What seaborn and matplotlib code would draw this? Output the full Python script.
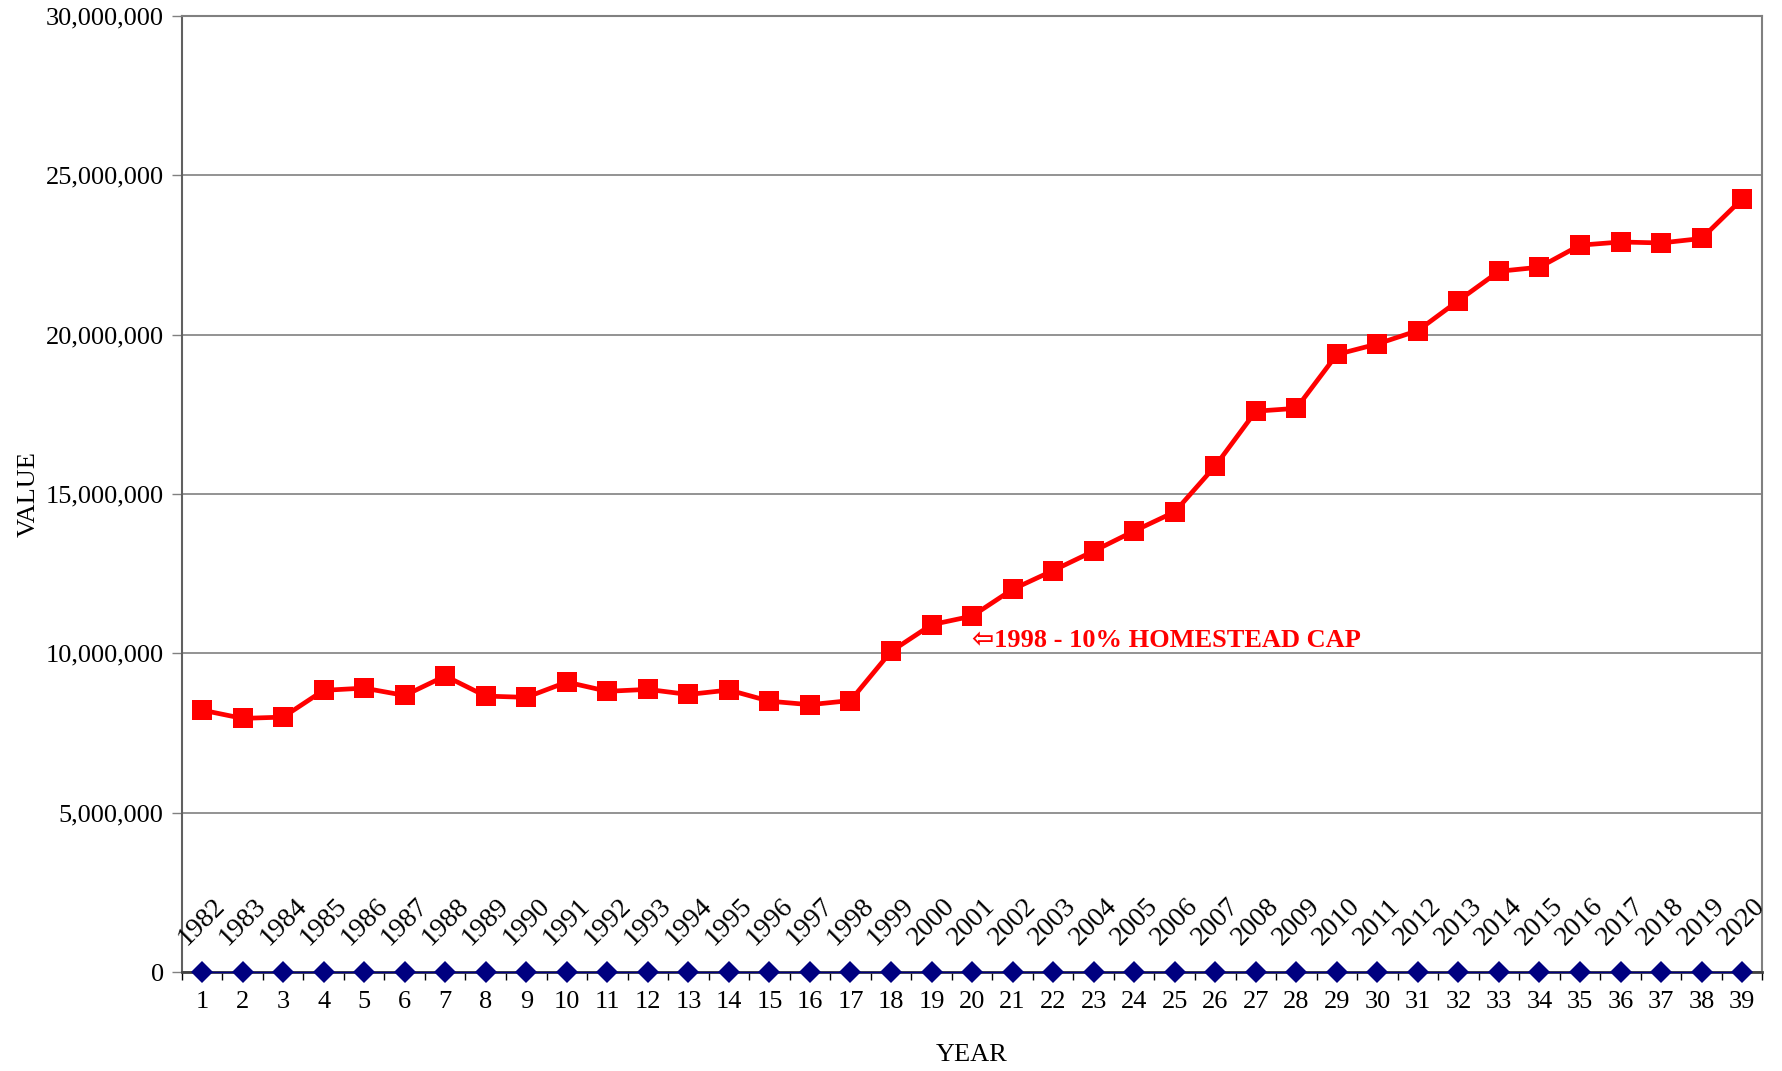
import numpy as np
import pandas as pd
import matplotlib
matplotlib.use('Agg')
import matplotlib.pyplot as plt
import seaborn as sns
from matplotlib.ticker import FuncFormatter, FixedLocator

# Chart data
index = list(range(1, 40))
years = list(range(1982, 2021))
values = [
    8.22e6, 7.96e6, 8.00e6, 8.84e6, 8.91e6, 8.68e6, 9.29e6, 8.66e6, 8.62e6, 9.10e6,
    8.81e6, 8.87e6, 8.71e6, 8.85e6, 8.50e6, 8.39e6, 8.52e6, 10.06e6, 10.90e6, 11.17e6,
    12.01e6, 12.60e6, 13.21e6, 13.84e6, 14.44e6, 15.88e6, 17.60e6, 17.69e6, 19.38e6, 19.71e6,
    20.13e6, 21.07e6, 21.99e6, 22.12e6, 22.81e6, 22.91e6, 22.88e6, 23.02e6, 24.26e6,
]
baseline = [0] * len(index)
cap_label = '\u21e61998 - 10% HOMESTEAD CAP'
cap_x = 20
cap_y = 10.4e6

df = pd.DataFrame({'idx': index, 'year': years, 'value': values, 'base': baseline})

sns.set_theme(style='white')
plt.rcParams['font.family'] = ['Liberation Serif', 'DejaVu Sans']

fig = plt.figure(figsize=(17.82, 10.71), dpi=100)
ax = fig.add_axes([0.102, 0.0924, 0.887, 0.8926])

# horizontal gridlines
ax.set_axisbelow(True)
ax.yaxis.grid(True, color='#808080', linewidth=1.2)

sns.lineplot(data=df, x='idx', y='base', ax=ax, color='#000080', linewidth=1,
             marker='D', markersize=11, markeredgewidth=0, zorder=5, clip_on=False)
sns.lineplot(data=df, x='idx', y='value', ax=ax, color='#ff0000', linewidth=3.4,
             marker='s', markersize=14, markeredgewidth=0, zorder=4)

# year labels above the zero series
for x, yr in zip(df['idx'], df['year']):
    ax.annotate(str(yr), xy=(x, 0), xytext=(0, 36), textcoords='offset points',
                ha='center', va='center', rotation=45, fontsize=20, color='black')

ax.text(cap_x, cap_y, cap_label, color='#ff0000', fontsize=19, fontweight='bold',
        ha='left', va='center', family=['Liberation Serif', 'DejaVu Sans'])

ax.set_xlim(0.5, 39.5)
ax.set_ylim(0, 30e6)
ax.set_yticks(np.arange(0, 30e6 + 1, 5e6))
ax.yaxis.set_major_formatter(FuncFormatter(lambda v, p: f'{int(v):,}'))

# category axis: tick marks between categories, labels at centres
ax.xaxis.set_major_locator(FixedLocator(np.arange(0.5, 40, 1)))
ax.xaxis.set_minor_locator(FixedLocator(index))
ax.xaxis.set_major_formatter(FuncFormatter(lambda v, p: ''))
ax.xaxis.set_minor_formatter(FuncFormatter(lambda v, p: f'{int(round(v))}'))
ax.tick_params(axis='x', which='major', direction='out', length=6, width=1, color='black', bottom=True)
ax.tick_params(axis='x', which='minor', length=0, pad=14, labelsize=19, labelcolor='black', bottom=True)
ax.tick_params(axis='y', direction='out', length=7, width=1, color='#808080', left=True,
               labelsize=19, labelcolor='black', pad=6)

for side in ['top', 'right']:
    ax.spines[side].set_color('#808080')
    ax.spines[side].set_linewidth(1.5)
ax.spines['left'].set_color('#606060')
ax.spines['left'].set_linewidth(1.5)
ax.spines['bottom'].set_color('#404040')
ax.spines['bottom'].set_linewidth(2)

ax.set_xlabel('YEAR', fontsize=19, labelpad=22, color='black')
ax.set_ylabel('VALUE', fontsize=19, labelpad=4, color='black')

fig.savefig('out.png', dpi=100)
